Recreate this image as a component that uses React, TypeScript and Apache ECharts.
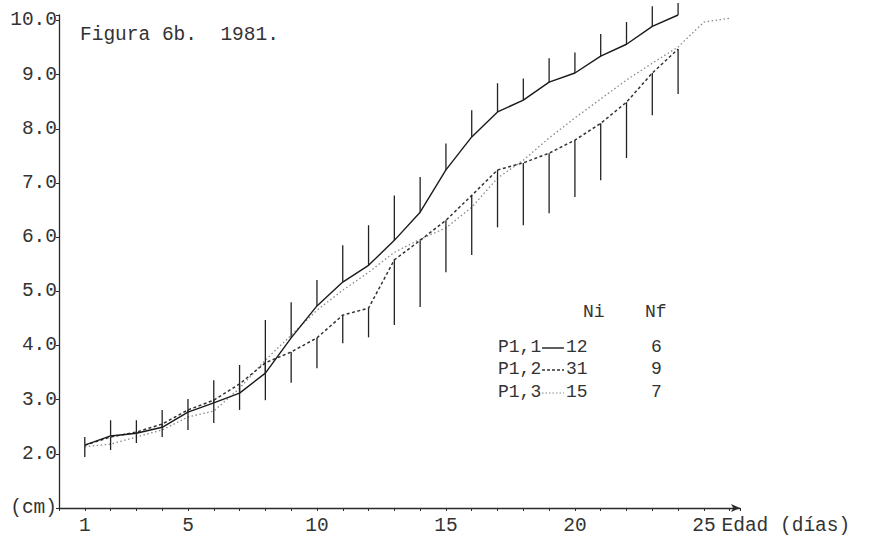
import React, { useEffect, useRef } from "react";
import * as echarts from "echarts";

// ---- data ----
const days = [1, 2, 3, 4, 5, 6, 7, 8, 9, 10, 11, 12, 13, 14, 15, 16, 17, 18, 19, 20, 21, 22, 23, 24];
const p11 = [2.16, 2.33, 2.38, 2.49, 2.77, 2.94, 3.12, 3.49, 4.14, 4.73, 5.17, 5.48, 5.94, 6.46, 7.24, 7.85, 8.31, 8.53, 8.86, 9.03, 9.34, 9.56, 9.89, 10.1];
const p11Upper = [2.31, 2.62, 2.62, 2.81, 3.01, 3.36, 3.64, 4.47, 4.8, 5.21, 5.85, 6.22, 6.77, 7.11, 7.73, 8.34, 8.84, 8.93, 9.3, 9.41, 9.75, 9.97, 10.26, 10.32];
const p12 = [2.16, 2.31, 2.4, 2.55, 2.81, 2.99, 3.29, 3.68, 3.88, 4.14, 4.56, 4.69, 5.58, 5.94, 6.31, 6.77, 7.24, 7.37, 7.55, 7.79, 8.1, 8.49, 9.03, 9.47];
const p12Lower = [1.94, 2.07, 2.2, 2.31, 2.44, 2.57, 2.81, 2.99, 3.31, 3.58, 4.04, 4.15, 4.38, 4.71, 5.35, 5.67, 6.18, 6.22, 6.44, 6.74, 7.05, 7.46, 8.25, 8.64];
const p13Days = [1, 2, 3, 4, 5, 6, 7, 8, 9, 10, 11, 12, 13, 14, 15, 16, 17, 18, 19, 20, 21, 22, 23, 24, 25, 26];
const p13 = [2.13, 2.18, 2.31, 2.44, 2.68, 2.79, 3.21, 3.73, 4.19, 4.65, 5.02, 5.35, 5.72, 5.96, 6.17, 6.55, 7.09, 7.42, 7.83, 8.2, 8.55, 8.9, 9.21, 9.51, 9.97, 10.04];
const xTickLabels = [1, 5, 10, 15, 20, 25];
const yTickLabels = [2, 3, 4, 5, 6, 7, 8, 9, 10];
const legendNames = ["P1,1", "P1,2", "P1,3"];
const legendNi = [12, 31, 15];
const legendNf = [6, 9, 7];
const titleText = "Figura 6b.  1981.";

const FONT = "'Liberation Mono', 'DejaVu Sans Mono', monospace";
const INK = "#333333";

export default function App() {
  const ref = useRef<HTMLDivElement>(null);

  useEffect(() => {
    if (!ref.current) return;
    const chart = echarts.init(ref.current, null, { renderer: "svg" });

    const errRender = (color: string) => (params: any, api: any) => {
      const a = api.coord([api.value(0), api.value(1)]);
      const b = api.coord([api.value(0), api.value(2)]);
      return {
        type: "line",
        shape: { x1: a[0], y1: a[1], x2: b[0], y2: b[1] },
        style: { stroke: color, lineWidth: 1.3 },
      };
    };

    const legendStyles = [
      { lineDash: null as any, stroke: "#1a1a1a", lineWidth: 1.4 },
      { lineDash: [3, 2], stroke: "#333", lineWidth: 1.4 },
      { lineDash: [1.5, 2], stroke: "#888", lineWidth: 1.2 },
    ];
    const legendY = [347, 369, 392];
    const legendGraphics: any[] = [
      { type: "text", left: 583, top: 303, style: { text: "Ni", font: `18px ${FONT}`, fill: INK } },
      { type: "text", left: 645, top: 303, style: { text: "Nf", font: `18px ${FONT}`, fill: INK } },
    ];
    legendNames.forEach((n, i) => {
      legendGraphics.push({ type: "text", left: 498, top: legendY[i] - 9, style: { text: n, font: `18px ${FONT}`, fill: INK } });
      legendGraphics.push({
        type: "line",
        shape: { x1: 542, y1: legendY[i] + 1, x2: 564, y2: legendY[i] + 1 },
        style: { stroke: legendStyles[i].stroke, lineWidth: legendStyles[i].lineWidth, lineDash: legendStyles[i].lineDash },
      });
      legendGraphics.push({ type: "text", left: 566, top: legendY[i] - 9, style: { text: String(legendNi[i]), font: `18px ${FONT}`, fill: INK } });
      legendGraphics.push({ type: "text", left: 651, top: legendY[i] - 9, style: { text: String(legendNf[i]), font: `18px ${FONT}`, fill: INK } });
    });

    chart.setOption({
      animation: false,
      backgroundColor: "#ffffff",
      grid: { left: 59, right: 130, top: 15, bottom: 31, containLabel: false },
      xAxis: {
        type: "value",
        min: 0,
        max: 26.4,
        interval: 1,
        splitLine: { show: false },
        axisLine: { lineStyle: { color: "#2a2a2a", width: 1.3 }, symbol: ["none", "arrow"], symbolSize: [6, 9] },
        axisTick: { show: true, length: 3, lineStyle: { color: "#2a2a2a" } },
        axisLabel: {
          margin: 8,
          color: INK,
          fontFamily: FONT,
          fontSize: 19.5,
          formatter: (v: number) => (xTickLabels.indexOf(v) >= 0 ? String(v) : ""),
        },
        name: "Edad (días)",
        nameLocation: "end",
        nameGap: -19,
        nameTextStyle: { color: INK, fontFamily: FONT, fontSize: 19.5, align: "left", verticalAlign: "top", padding: [8, 0, 0, 0] },
      },
      yAxis: {
        type: "value",
        min: 1,
        max: 10.1,
        interval: 1,
        splitLine: { show: false },
        axisLine: { lineStyle: { color: "#2a2a2a", width: 1.3 } },
        axisTick: { show: true, length: 3, lineStyle: { color: "#2a2a2a" } },
        axisLabel: {
          margin: 2,
          color: INK,
          fontFamily: FONT,
          fontSize: 19.5,
          formatter: (v: number) => {
            if (v === 1) return "(cm)";
            return yTickLabels.indexOf(v) >= 0 ? v.toFixed(1) : "";
          },
        },
      },
      graphic: [
        { type: "text", left: 80, top: 25, style: { text: titleText, font: `19.5px ${FONT}`, fill: INK } },
        ...legendGraphics,
      ],
      series: [
        {
          name: "P1,3",
          type: "line",
          data: p13Days.map((d, i) => [d, p13[i]]),
          symbol: "none",
          clip: false,
          lineStyle: { color: "#888", width: 1.3, type: [1.5, 2.5] },
          z: 2,
        },
        {
          name: "P1,2",
          type: "line",
          data: days.map((d, i) => [d, p12[i]]),
          symbol: "none",
          clip: false,
          lineStyle: { color: "#333", width: 1.5, type: [3, 2.5] },
          z: 3,
        },
        {
          name: "P1,1",
          type: "line",
          data: days.map((d, i) => [d, p11[i]]),
          symbol: "none",
          clip: false,
          lineStyle: { color: "#1a1a1a", width: 1.4 },
          z: 4,
        },
        {
          name: "P1,1 err",
          type: "custom",
          clip: false,
          renderItem: errRender("#222"),
          encode: { x: 0, y: [1, 2] },
          data: days.map((d, i) => [d, p11[i], p11Upper[i]]),
          z: 5,
        },
        {
          name: "P1,2 err",
          type: "custom",
          clip: false,
          renderItem: errRender("#222"),
          encode: { x: 0, y: [1, 2] },
          data: days.map((d, i) => [d, p12[i], p12Lower[i]]),
          z: 5,
        },
      ],
    });

    return () => chart.dispose();
  }, []);

  return (
    <div
      ref={ref}
      style={{ position: "absolute", left: 0, top: 0, width: 870, height: 539, background: "#fff" }}
    />
  );
}
